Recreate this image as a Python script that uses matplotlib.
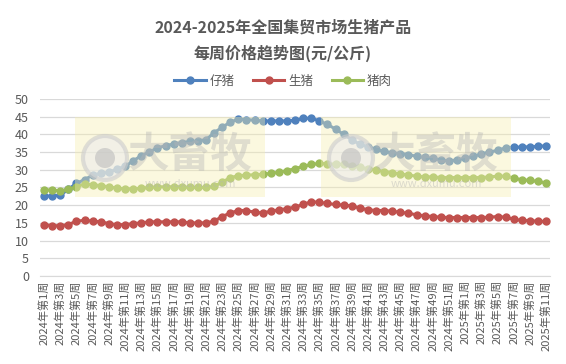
import numpy as np
import matplotlib.pyplot as plt
from matplotlib.patches import Rectangle, Circle

plt.rcParams['font.family'] = ['Noto Sans CJK SC', 'DejaVu Sans']

# categories: 2024 wk1-52, 2025 wk1-11
years = [2024] * 52 + [2025] * 11
weeks = list(range(1, 53)) + list(range(1, 12))
labels = ['%d年第%d周' % (y, w) for y, w in zip(years, weeks)]

# 仔猪
piglet = [22.6, 22.6, 22.8, 24.5, 26.2, 27.2, 28.5, 29.0, 29.3, 30.2,
          31.0, 32.5, 34.0, 35.0, 36.2, 36.8, 37.3, 37.7, 38.0, 38.2,
          38.5, 40.5, 42.0, 43.5, 44.3, 44.2, 44.0, 43.8, 43.8, 43.8,
          43.8, 44.0, 44.5, 44.6, 43.8, 42.8, 41.5, 40.0, 38.5, 37.2,
          36.5, 35.8, 35.2, 34.8, 34.6, 34.3, 33.8, 33.5, 33.2, 32.8,
          32.5, 32.8, 33.3, 33.8, 34.5, 35.0, 35.5, 36.2, 36.4, 36.4,
          36.5, 36.6, 36.8]
# 生猪
hog = [14.5, 14.2, 14.2, 14.5, 15.5, 15.7, 15.5, 15.3, 14.8, 14.5,
       14.5, 14.8, 15.0, 15.3, 15.3, 15.3, 15.3, 15.3, 15.0, 15.0,
       15.0, 15.5, 16.8, 17.8, 18.5, 18.5, 18.0, 17.8, 18.3, 18.7,
       19.0, 19.5, 20.2, 21.0, 20.8, 20.5, 20.2, 20.0, 19.8, 19.2,
       18.7, 18.5, 18.5, 18.3, 18.0, 17.7, 17.3, 17.0, 16.8, 16.6,
       16.5, 16.5, 16.5, 16.5, 16.5, 16.6, 16.8, 16.6, 16.0, 15.7,
       15.6, 15.5, 15.4]
# 猪肉
pork = [24.3, 24.3, 24.0, 24.5, 25.2, 26.0, 25.8, 25.5, 25.2, 24.8,
        24.6, 24.6, 24.8, 25.0, 25.2, 25.2, 25.2, 25.2, 25.0, 25.0,
        25.0, 25.3, 26.5, 27.8, 28.3, 28.5, 28.6, 28.7, 29.0, 29.3,
        29.8, 30.3, 31.0, 31.5, 31.8, 31.7, 31.6, 31.5, 31.2, 30.7,
        30.3, 30.0, 29.5, 29.2, 28.8, 28.5, 28.2, 28.0, 28.0, 27.8,
        27.8, 27.8, 27.8, 27.8, 27.8, 28.0, 28.2, 28.2, 27.6, 27.2,
        27.0, 26.7, 26.3]

series = [('仔猪', piglet, '#4f81bd'), ('生猪', hog, '#c0504d'), ('猪肉', pork, '#9bbb59')]
txt = '#595959'

fig = plt.figure(figsize=(5.66, 3.64), dpi=100)
ax = fig.add_axes([0.0707, 0.2418, 0.9013, 0.4862])
x = np.arange(len(labels))
for name, vals, c in series:
    ax.plot(x, vals, color=c, lw=2.2, marker='o', ms=5, label=name, zorder=3)

ax.set_ylim(0, 50)
ax.set_yticks(range(0, 51, 5))
ax.set_xlim(-0.5, len(labels) - 0.5)
ax.set_xticks(x[::2])
ax.set_xticklabels(labels[::2], rotation=90, fontsize=8, color=txt)
ax.tick_params(axis='y', labelsize=9, colors=txt, length=0, pad=8)
ax.tick_params(axis='x', length=0, pad=3)
ax.grid(axis='y', color='#d9d9d9', lw=0.9)
ax.set_axisbelow(True)
for s in ['top', 'right', 'left']:
    ax.spines[s].set_visible(False)
ax.spines['bottom'].set_color('#d9d9d9')

# watermark
for x0 in [75, 321]:
    fig.patches.append(Rectangle((x0 / 566, 1 - 197 / 364), 190 / 566, 80 / 364,
                                 transform=fig.transFigure, color='#f5efb0', alpha=0.4,
                                 lw=0, zorder=5))
    fig.patches.append(Circle((x0 + 30, 364 - 158), 22, transform=None, fc='#ececec',
                              ec='#cccccc', lw=3, alpha=0.6, zorder=6))
    fig.patches.append(Circle((x0 + 30, 364 - 158), 10, transform=None, fc='#bdbdbd',
                              ec='none', alpha=0.6, zorder=6))
    fig.text((x0 + 115) / 566, 1 - 155 / 364, '大畜牧', fontsize=30, fontweight='bold',
             color='#b5b5b5', alpha=0.4, ha='center', va='center', zorder=7)
    fig.text((x0 + 115) / 566, 1 - 184 / 364, 'www.dxumu.com', fontsize=8,
             color='#b5b5b5', alpha=0.45, ha='center', va='center', zorder=7)

fig.text(0.5, 1 - 28 / 364, '2024-2025年全国集贸市场生猪产品', ha='center', va='center',
         fontsize=11.5, fontweight='bold', color=txt)
fig.text(0.5, 1 - 53 / 364, '每周价格趋势图(元/公斤)', ha='center', va='center',
         fontsize=11.5, fontweight='bold', color=txt)
fig.legend(loc='center', bbox_to_anchor=(0.5, 1 - 81 / 364), ncol=3, frameon=False,
           fontsize=9, labelcolor=txt, handlelength=2.5, columnspacing=1.5, handletextpad=0.3)

fig.savefig('out.png', dpi=100)
